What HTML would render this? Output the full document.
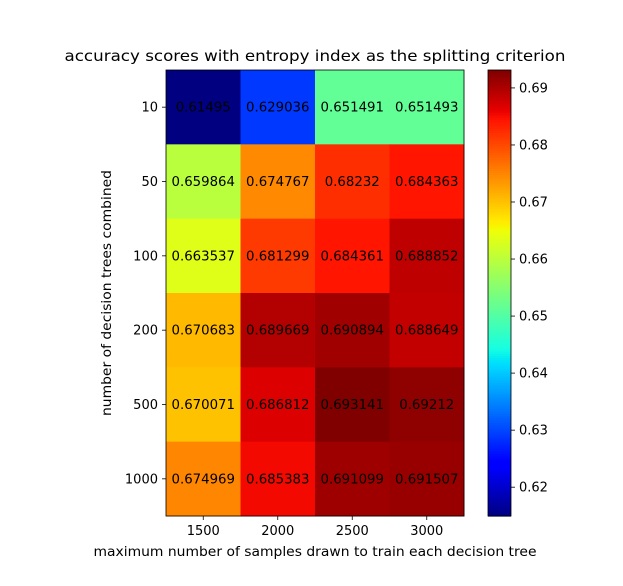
<!DOCTYPE html>
<html><head><meta charset="utf-8"><style>
body{margin:0;background:#fff;}
svg text{font-family:"DejaVu Sans","Liberation Sans",sans-serif;}
</style></head><body>
<svg id="chart" width="623" height="581" xmlns="http://www.w3.org/2000/svg">
<rect width="623" height="581" fill="#fff"/>
<text x="315" y="61" font-size="15.5" text-anchor="middle" textLength="501" lengthAdjust="spacingAndGlyphs">accuracy scores with entropy index as the splitting criterion</text>
<g id="cells"></g>
<g id="axes"></g>
<g id="cbar"></g>
<text x="315" y="556" font-size="13" text-anchor="middle" textLength="443" lengthAdjust="spacingAndGlyphs">maximum number of samples drawn to train each decision tree</text>
<text transform="translate(111,293) rotate(-90)" font-size="13" text-anchor="middle" textLength="246" lengthAdjust="spacingAndGlyphs">number of decision trees combined</text>
</svg>
<script>
const colLabels=["1500","2000","2500","3000"];
const rowLabels=["10","50","100","200","500","1000"];
const values=[
[0.61495,0.629036,0.651491,0.651493],
[0.659864,0.674767,0.68232,0.684363],
[0.663537,0.681299,0.684361,0.688852],
[0.670683,0.689669,0.690894,0.688649],
[0.670071,0.686812,0.693141,0.69212],
[0.674969,0.685383,0.691099,0.691507]];
const labels=[
["0.61495","0.629036","0.651491","0.651493"],
["0.659864","0.674767","0.68232","0.684363"],
["0.663537","0.681299","0.684361","0.688852"],
["0.670683","0.689669","0.690894","0.688649"],
["0.670071","0.686812","0.693141","0.69212"],
["0.674969","0.685383","0.691099","0.691507"]];
const cbTicks=[0.62,0.63,0.64,0.65,0.66,0.67,0.68,0.69];

const NS="http://www.w3.org/2000/svg";
const X0=166,X1=464,Y0=70,Y1=516;
const all=values.flat();const vmin=Math.min(...all),vmax=Math.max(...all);
const cw=(X1-X0)/colLabels.length,ch=(Y1-Y0)/rowLabels.length;
function xPos(i){return X0+i*cw;}
function yPos(j){return Y0+j*ch;}
function cY(v){return Y1-(v-vmin)/(vmax-vmin)*(Y1-Y0);}
const RS=[[0,0],[0.35,0],[0.66,1],[0.89,1],[1,0.5]];
const GS=[[0,0],[0.125,0],[0.375,1],[0.64,1],[0.91,0],[1,0]];
const BS=[[0,0.5],[0.11,1],[0.34,1],[0.65,0],[1,0]];
function seg(s,t){for(let k=1;k<s.length;k++){if(t<=s[k][0]){const a=s[k-1],b=s[k];return a[1]+(b[1]-a[1])*(t-a[0])/(b[0]-a[0]);}}return s[s.length-1][1];}
function jet(t){t=Math.max(0,Math.min(1,t));
 return `rgb(${Math.round(seg(RS,t)*255)},${Math.round(seg(GS,t)*255)},${Math.round(seg(BS,t)*255)})`;}
function mk(tag,attrs,parent){const e=document.createElementNS(NS,tag);for(const k in attrs)e.setAttribute(k,attrs[k]);parent.appendChild(e);return e;}
const cells=document.getElementById('cells');
values.forEach((row,j)=>row.forEach((v,i)=>{
 const r=mk('rect',{x:xPos(i),y:yPos(j),width:cw+0.5,height:ch+0.5,fill:jet((v-vmin)/(vmax-vmin))},cells);
 
 
 const t=mk('text',{x:xPos(i)+cw/2,y:yPos(j)+ch/2+4.5,'font-size':13.3,'text-anchor':'middle'},cells);
 
 
 t.textContent=labels[j][i];
}));
const ax=document.getElementById('axes');
mk('rect',{x:X0,y:Y0,width:X1-X0,height:Y1-Y0,fill:'none',stroke:'#000','stroke-width':0.8},ax);
colLabels.forEach((l,i)=>{const x=xPos(i)+cw/2;
 mk('line',{x1:x,x2:x,y1:Y1,y2:Y1+4,stroke:'#000','stroke-width':0.8},ax);
 const t=mk('text',{x:x,y:Y1+19,'font-size':13,'text-anchor':'middle'},ax);
 
 
 t.textContent=l;});
rowLabels.forEach((l,j)=>{const y=yPos(j)+ch/2;
 mk('line',{x1:X0-4,x2:X0,y1:y,y2:y,stroke:'#000','stroke-width':0.8},ax);
 const t=mk('text',{x:X0-8,y:y+4.5,'font-size':13,'text-anchor':'end'},ax);
 
 
 t.textContent=l;});
const cb=document.getElementById('cbar');
const CX=488,CW=23,N=200;
for(let k=0;k<N;k++){const t0=k/N;
 mk('rect',{x:CX,y:Y1-(k+1)/N*(Y1-Y0),width:CW,height:(Y1-Y0)/N+0.6,fill:jet(t0+0.5/N)},cb);}
const cf=mk('rect',{x:CX,y:Y0,width:CW,height:Y1-Y0,fill:'none',stroke:'#000','stroke-width':0.8},cb);


cbTicks.forEach(v=>{const y=cY(v);
 mk('line',{x1:CX+CW,x2:CX+CW+4,y1:y,y2:y,stroke:'#000','stroke-width':0.8},cb);
 const t=mk('text',{x:CX+CW+8,y:y+4.5,'font-size':13},cb);
 
 
 t.textContent=v.toFixed(2);});
</script>
</body></html>
